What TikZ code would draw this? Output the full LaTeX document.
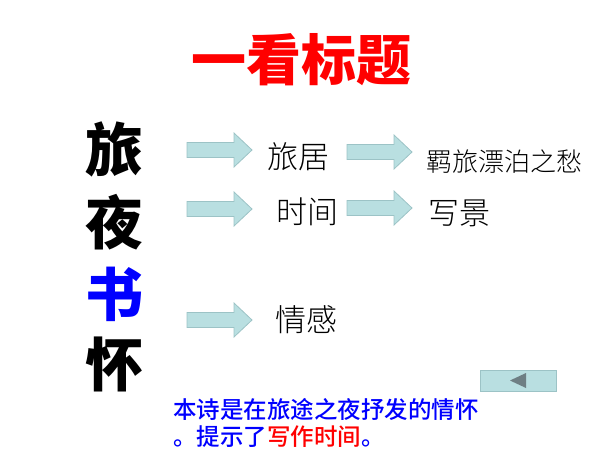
\documentclass[tikz,border=0pt]{standalone}
\usepackage{fontspec}
\setmainfont{Noto Sans CJK SC}
\newfontfamily\heimed{Noto Sans CJK SC Medium}
\newfontfamily\songlight{Noto Sans CJK SC Light}
\usepackage{tikz}
\usetikzlibrary{positioning}
\definecolor{arrowfill}{HTML}{B9DFE1}
\definecolor{arrowline}{HTML}{9CC3C6}
\definecolor{btntri}{HTML}{6E7F84}
\tikzset{
  bigchar/.style={font=\fontsize{58}{60}\selectfont\bfseries, inner sep=0pt},
  word/.style={font=\fontsize{31}{34}\selectfont\songlight, inner sep=0pt},
  blockarrow/.style={draw=arrowline, fill=arrowfill, line width=0.8pt}
}

\begin{document}
\begin{tikzpicture}[x=1pt,y=-1pt]
\useasboundingbox (0,0) rectangle (600,450);
% title
\node[red, font=\fontsize{55}{60}\selectfont\bfseries, inner sep=0pt] (title) at (301,60) {一看标题};
% left column
\node[bigchar] (lv) at (114,149) {旅};
\node[bigchar] (ye) at (114,222) {夜};
\node[bigchar, blue] (shu) at (114,294) {书};
\node[bigchar] (huai) at (114,364) {怀};
% block arrows
\foreach \ax/\ay in {187/150, 187/209, 187/320, 347/152, 347/208}
  \draw[blockarrow] (\ax,\ay) ++(0,-7.5) -- ++(47,0) -- ++(0,-9.5) -- ++(18,17) -- ++(-18,17) -- ++(0,-9.5) -- ++(-47,0) -- cycle;
% words
\node[word] (lvju) at (298,157) {旅居};
\node[word] (shijian) at (307,212) {时间};
\node[word] (qinggan) at (306,320) {情感};
\node[word] (xiejing) at (459,213) {写景};
\node[font=\fontsize{26}{28}\selectfont\songlight, inner sep=0pt] (chou) at (504,162) {羁旅漂泊之愁};
% back button
\node[blockarrow, minimum width=76pt, minimum height=21pt, inner sep=0pt] (back) at (518,380.5) {};
\fill[btntri] (510,380.5) -- (526,373) -- (526,388) -- cycle;
% note
\node[blue, font=\fontsize{23.5}{27}\selectfont\heimed, align=left, anchor=north west, inner sep=0pt] (note) at (173,398) {本诗是在旅途之夜抒发的情怀\\。提示了\textcolor{red}{写作时间}。};
\end{tikzpicture}
\end{document}
